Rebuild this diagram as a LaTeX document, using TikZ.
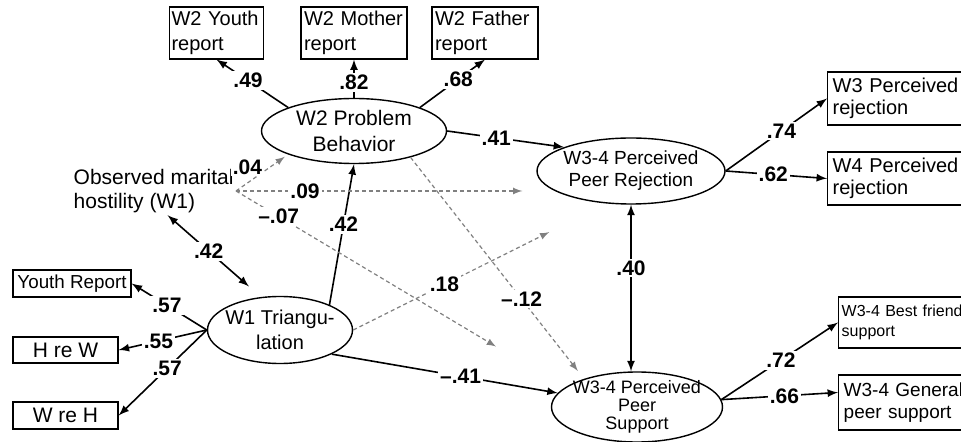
\documentclass[tikz,border=0pt]{standalone}
\usepackage{fontspec}
\setmainfont{Liberation Sans}
\usetikzlibrary{shapes.geometric}
\begin{document}
\begin{tikzpicture}[x=0.5pt,y=-0.5pt,
    box/.style={draw,line width=0.7pt,align=left,inner xsep=1.5pt,inner ysep=2pt,font=\fontsize{10}{12.5}\selectfont},
    lat/.style={draw,ellipse,line width=0.7pt,align=center,inner sep=0pt},
    lab/.style={fill=white,text=black,inner sep=1pt,font=\fontsize{10.5}{12}\selectfont\bfseries},
    eff/.style={-latex,line width=0.8pt},
    ns/.style={-latex,gray,line width=0.6pt,dash pattern=on 2pt off 1.5pt}]
  \useasboundingbox (0,0) rectangle (961,442);
  \clip (0,0) rectangle (961,442);
  \node[lat,minimum width=92.5pt,minimum height=32.5pt,font=\fontsize{10.5}{13}\selectfont] (w2pb) at (354,131) {W2 Problem\\Behavior};
  \node[lat,minimum width=94pt,minimum height=33pt,inner xsep=-1pt,font=\fontsize{9.5}{11}\selectfont] (rej) at (631,171) {W3-4 Perceived\\Peer Rejection};
  \node[lat,minimum width=72.5pt,minimum height=33.5pt,inner xsep=-2pt,font=\fontsize{10}{12.5}\selectfont] (tri) at (280,330) {W1 Triangu-\\lation};
  \node[lat,minimum width=85.5pt,minimum height=35pt,inner xsep=-2pt,inner ysep=-8pt,font=\fontsize{9}{9}\selectfont] (sup) at (637,407) {W3-4 Perceived\\Peer\\Support};
  \node[align=left,anchor=east,inner sep=1pt,font=\fontsize{10.5}{12}\selectfont] (host) at (236,191) {Observed marital\\hostility (W1)};
  \node[box,inner xsep=1pt,text width=45pt] (w2y) at (216.5,33) {W2 Youth\\report};
  \node[box,text width=50pt] (w2m) at (354,33) {W2 Mother\\report};
  \node[box,text width=50pt] (w2f) at (485,33) {W2 Father\\report};
  \node[box,anchor=west,inner xsep=2.5pt,inner ysep=3pt,text width=80pt,font=\fontsize{10}{11}\selectfont] (w3) at (827,98.5) {W3 Perceived\\rejection};
  \node[box,anchor=west,inner xsep=2.5pt,inner ysep=3pt,text width=80pt,font=\fontsize{10}{11}\selectfont] (w4) at (827,178.5) {W4 Perceived\\rejection};
  \node[box,anchor=west,text width=80pt,minimum height=25.5pt,font=\fontsize{8}{10}\selectfont] (bf) at (838,322.5) {W3-4 Best friend\\support};
  \node[box,anchor=west,inner xsep=2.5pt,text width=80pt,minimum height=27.5pt,font=\fontsize{9.5}{11}\selectfont] (gen) at (838,402.5) {W3-4 General\\peer support};
  \node[box,align=center,inner sep=1pt,minimum width=59pt,minimum height=13.5pt,font=\fontsize{9.4}{11}\selectfont] (yr) at (72,283.5) {Youth Report};
  \node[box,align=center,inner sep=1pt,minimum width=52.5pt,minimum height=13pt,font=\fontsize{10.5}{12}\selectfont] (hw) at (65.5,350) {H re W};
  \node[box,align=center,inner sep=1pt,minimum width=52.5pt,minimum height=13.5pt,font=\fontsize{10.5}{12}\selectfont] (wh) at (65.5,415.5) {W re H};
  \foreach \a/\b/\v/\p in {north west/w2y/.49/0.56, north/w2m/.82/0.4, north east/w2f/.68/0.59}
    \draw[eff] (w2pb.\a) -- (\b.south) node[pos=\p,lab]{\v};
  \foreach \b/\v/\p in {yr/.57/0.53, hw/.55/0.55, wh/.57/0.45}
    \draw[eff] (tri.west) -- (\b.east) node[pos=\p,lab]{\v};
  \draw[eff] (w2pb.east) -- (rej.north west) node[pos=0.42,lab]{.41};
  \draw[eff] (rej.east) -- (w3.west) node[pos=0.55,lab]{.74};
  \draw[eff] (rej.east) -- (w4.west) node[pos=0.47,lab]{.62};
  \draw[eff,latex-latex] (rej.south) -- (rej.south |- sup.north) node[pos=0.38,lab]{.40};
  \draw[eff] (sup.5) -- (bf.west) node[pos=0.51,lab]{.72};
  \draw[eff] (sup.5) -- ([yshift=5pt]gen.west) node[pos=0.54,lab]{.66};
  \draw[eff] (tri.27) -- (w2pb.south) node[pos=0.57,lab]{.42};
  \draw[eff] (tri.-25) -- (sup.170) node[pos=0.57,lab]{–.41};
  \draw[eff,latex-latex,shorten >=8pt] (host.-60) -- (tri.120) node[pos=0.44,lab]{.42};
  \draw[ns,shorten >=2pt] (host.east) -- (w2pb.south west) node[pos=0.22,above=3pt,lab]{.04};
  \draw[ns,shorten >=7pt] (host.east) -- (host.east -| rej.west) node[pos=0.23,lab]{.09};
  \draw[ns,shorten >=40pt] (host.east) -- (sup.165) node[pos=0.13,lab]{–.07};
  \draw[ns,shorten >=32pt] (tri.east) -- (rej.-127) node[pos=0.36,lab]{.18};
  \draw[ns,shorten >=5pt] (w2pb.-25) -- (sup.152) node[pos=0.64,lab]{–.12};
\end{tikzpicture}
\end{document}
